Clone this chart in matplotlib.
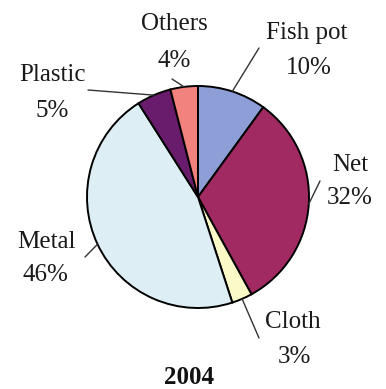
import numpy as np
import matplotlib
matplotlib.use("Agg")
import matplotlib.pyplot as plt

categories = ["Fish pot", "Net", "Cloth", "Metal", "Plastic", "Others"]
values = [10, 32, 3, 46, 5, 4]
colors = ["#8e9ed6", "#a12a62", "#fbf9c8", "#ddeef4", "#6a1c6c", "#f2827e"]
title = "2004"

W, H = 386, 389
fig = plt.figure(figsize=(W / 100, H / 100), dpi=100)
ax = fig.add_axes([0, 0, 1, 1])

def P(x, y):
    return (x, H - y)

cx, cy = P(198, 197)
R = 111
wedges, _ = ax.pie(values, colors=colors, startangle=90, counterclock=False,
                   center=(cx, cy), radius=R, frame=True,
                   wedgeprops=dict(edgecolor="black", linewidth=1.4))
ax.set_xlim(0, W)
ax.set_ylim(0, H)
ax.set_aspect("equal")
ax.axis("off")

font = dict(family="Liberation Serif", fontsize=18, color="#1a1a1a")

# label centres (line1, line2) and leader start points in pixel coords
label_pos = {
    "Fish pot": ((307, 33), (309, 68), (259, 48)),
    "Net": ((350, 165), (350, 198), (320, 181)),
    "Cloth": ((293, 322), (294, 357), (259, 338)),
    "Metal": ((46, 242), (45, 275), (85, 257)),
    "Plastic": ((52, 75), (52, 111), (88, 90)),
    "Others": ((174, 24), (174, 61), (172, 79)),
}

for w, cat, v in zip(wedges, categories, values):
    (x1, y1), (x2, y2), (lx, ly) = label_pos[cat]
    ax.text(*P(x1, y1), cat, ha="center", va="center", **font)
    ax.text(*P(x2, y2), f"{v}%", ha="center", va="center", **font)
    ang = np.deg2rad((w.theta1 + w.theta2) / 2)
    ex, ey = cx + R * np.cos(ang), cy + R * np.sin(ang)
    ax.annotate("", xy=(ex, ey), xytext=P(lx, ly),
                arrowprops=dict(arrowstyle="-", color="#333333", lw=1.0,
                                shrinkA=0, shrinkB=0))

ax.text(*P(189, 377), title, ha="center", va="center",
        family="Liberation Serif", fontsize=18, fontweight="bold", color="#111111")

fig.savefig("out.png", dpi=100)
